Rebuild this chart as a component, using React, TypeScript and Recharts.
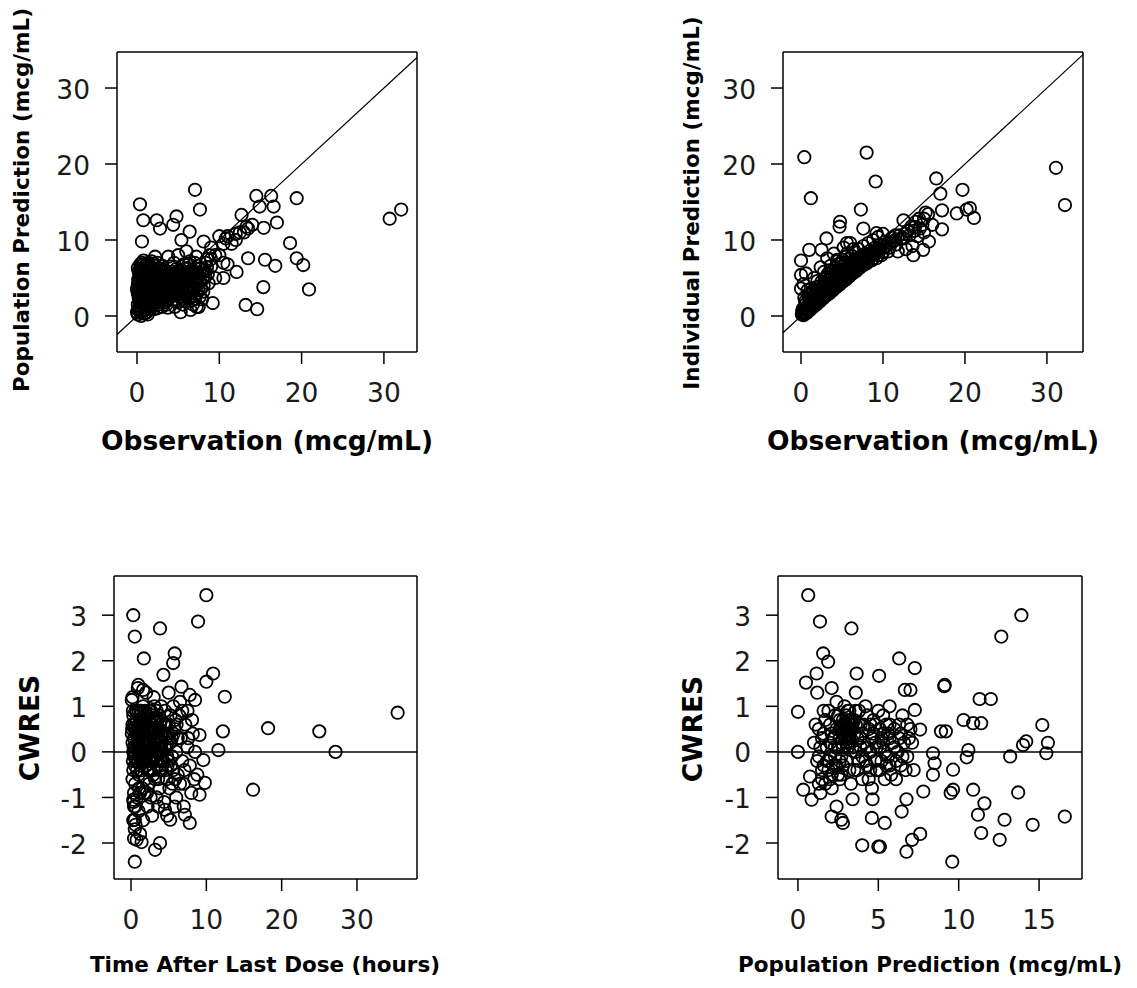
import React from "react"
import { ScatterChart, Scatter, XAxis, YAxis, ReferenceLine, Label } from "recharts"

// observation vs population prediction (mcg/mL)
const obsVsPred: [number, number][] = [
  [0.36, 14.7], [7.05, 16.6], [7.65, 14.0], [14.5, 15.8], [16.3, 15.8], [19.4, 15.5], [14.9, 14.4],
  [16.6, 14.4], [17.0, 12.3], [30.7, 12.8], [32.1, 14.0], [0.77, 12.6], [2.4, 12.6], [2.8, 11.5],
  [4.8, 13.1], [4.4, 12.0], [6.4, 11.1], [5.4, 10.0], [0.6, 9.8], [8.1, 9.8], [12.7, 13.3],
  [13.3, 11.75], [15.4, 11.6], [18.6, 9.6], [19.4, 7.6], [20.2, 6.7], [15.55, 7.4], [16.8, 6.6],
  [13.5, 7.6], [12.1, 5.8], [15.35, 3.8], [20.9, 3.5], [13.2, 1.45], [14.6, 0.9],
  [10, 10.5], [11, 10.5], [10.5, 9.5], [12, 10], [12.5, 11], [13, 11], [11.5, 9.5], [9, 9],
  [9.5, 8], [8.5, 7.5], [10, 8], [9, 6.5], [8, 6], [10.5, 7], [11, 6.8], [9.5, 5], [10.5, 5],
  [9.2, 1.7], [7.5, 1.2], [12, 10.8], [13.5, 11.5], [14, 12], [10.8, 10.2],
  [0.1, 0.2], [0.2, 1.0], [0.3, 2.0], [0.1, 3.0], [0.4, 3.8], [0.2, 4.5], [0.3, 5.5], [0.5, 6.2],
  [0.6, 7.0], [0.8, 1.5], [0.9, 2.5], [0.7, 3.2], [1.0, 4.0], [0.9, 5.0], [1.1, 5.8], [1.2, 0.5],
  [1.3, 1.8], [1.4, 2.8], [1.5, 3.5], [1.3, 4.4], [1.6, 6.5], [1.8, 7.2], [1.7, 1.0], [2.0, 2.2],
  [2.1, 3.0], [1.9, 4.2], [2.2, 5.1], [2.4, 6.0], [2.5, 7.0], [2.6, 1.5], [2.8, 2.6], [2.9, 3.6],
  [3.0, 4.5], [2.7, 5.6], [3.1, 6.6], [0.0, 0.5], [0.5, 0.0], [1.0, 0.8], [2.0, 0.9], [0.3, 2.6],
  [0.6, 4.8], [1.5, 5.3], [2.3, 4.0], [3.2, 2.0], [3.4, 3.2], [3.5, 5.2], [3.3, 6.0], [0.2, 5.9],
  [1.2, 6.8], [2.9, 6.2],
  [0.1, 1.5], [0.2, 2.4], [0.0, 3.5], [0.1, 4.1], [0.3, 4.9], [0.4, 5.2], [0.1, 6.3], [0.4, 6.8],
  [0.5, 1.2], [0.6, 2.2], [0.5, 3.0], [0.7, 3.9], [0.8, 4.5], [0.7, 5.5], [0.8, 6.2], [0.9, 0.3],
  [1.0, 1.6], [1.1, 2.0], [1.0, 3.0], [1.2, 3.5], [1.1, 4.8], [1.3, 5.2], [1.4, 6.0], [1.5, 0.9],
  [1.6, 2.1], [1.7, 3.1], [1.6, 4.0], [1.8, 4.7], [1.7, 5.7], [1.9, 6.2], [2.0, 1.5], [2.2, 2.6],
  [2.1, 3.6], [2.3, 4.6], [2.5, 5.4], [2.2, 6.6], [2.4, 1.0], [2.6, 2.0], [2.5, 3.3], [2.7, 4.2],
  [2.8, 5.0], [3.0, 1.2], [3.1, 2.4], [3.2, 3.0], [3.3, 4.0], [3.1, 5.2], [3.5, 4.4], [3.4, 1.8],
  [0.6, 0.6], [1.4, 1.3], [0.2, 3.4], [0.9, 3.6], [1.8, 2.4], [2.6, 4.6], [1.2, 6.2], [0.8, 7.3],
  [1.4, 7.0],
  [0.15, 0.8], [0.35, 1.7], [0.25, 2.8], [0.45, 3.4], [0.15, 4.8], [0.35, 5.9], [0.55, 6.6],
  [0.65, 1.9], [0.75, 2.8], [0.85, 4.1], [0.65, 5.1], [0.95, 5.6], [1.05, 6.5], [1.15, 1.2],
  [1.25, 2.4], [1.35, 3.2], [1.45, 4.7], [1.55, 5.7], [1.65, 1.6], [1.75, 2.6], [1.85, 3.6],
  [1.95, 5.2], [2.05, 6.9], [2.15, 1.8], [2.35, 2.9], [2.45, 4.3], [2.55, 5.0], [2.65, 6.3],
  [2.85, 1.9], [2.95, 3.1], [3.05, 4.0], [3.15, 5.7], [3.35, 2.6], [3.45, 3.7], [3.55, 4.8],
  [0.45, 0.4], [1.3, 0.2],
  [3.6, 1.5], [3.8, 2.5], [4.0, 3.5], [4.2, 4.5], [4.4, 5.5], [4.1, 6.5], [4.5, 7.0], [4.8, 2.0],
  [5.0, 3.0], [5.2, 4.0], [5.4, 5.0], [5.1, 6.0], [5.3, 0.5], [5.6, 1.5], [5.8, 2.8], [6.0, 3.8],
  [6.2, 5.2], [6.1, 6.3], [6.4, 7.2], [6.6, 2.0], [6.8, 3.2], [7.0, 4.5], [7.2, 5.6], [7.4, 6.6],
  [7.6, 2.5], [7.8, 3.6], [8.0, 4.8], [8.2, 6.0], [8.4, 7.0], [7.25, 1.2], [6.5, 0.8], [4.6, 1.2],
  [3.9, 4.0], [5.7, 6.8], [8.6, 5.5], [9.0, 7.5], [8.8, 8.0], [7.2, 7.8], [6.0, 8.5], [5.0, 8.0],
  [3.8, 7.8], [2.2, 7.8],
  [3.7, 2.0], [3.9, 3.0], [4.0, 4.6], [4.2, 5.8], [4.3, 2.6], [4.5, 3.6], [4.6, 4.2], [4.7, 5.0],
  [4.8, 6.2], [4.9, 2.8], [5.0, 1.8], [5.1, 3.6], [5.2, 4.6], [5.3, 5.6], [5.5, 2.2], [5.5, 3.4],
  [5.6, 4.4], [5.7, 5.4], [5.8, 6.2], [5.9, 1.9], [6.0, 2.6], [6.1, 4.4], [6.2, 3.2], [6.3, 5.8],
  [6.4, 2.4], [6.5, 4.0], [6.6, 5.0], [6.7, 6.0], [6.8, 1.5], [6.9, 2.6], [7.0, 3.8], [7.1, 5.0],
  [7.3, 3.0], [7.4, 4.2], [7.5, 5.2], [7.7, 6.2], [7.9, 2.2], [8.1, 4.0], [8.3, 5.2], [8.5, 6.4],
  [8.7, 4.3], [5.4, 2.6], [4.4, 4.9], [3.6, 3.8], [6.3, 6.8], [7.0, 7.0],
  [3.75, 1.1], [3.85, 3.4], [4.05, 4.2], [4.25, 5.2], [4.45, 2.2], [4.65, 3.1], [4.85, 4.0],
  [5.05, 5.2], [5.25, 3.2], [5.45, 4.2], [5.65, 2.9], [5.85, 3.6], [6.05, 4.9], [6.25, 4.1],
  [6.45, 3.1], [6.65, 4.6], [6.85, 5.6], [7.05, 2.2], [7.25, 4.8], [7.45, 3.4], [7.65, 4.6],
  [7.85, 5.6], [8.05, 3.2],
]

// observation vs individual prediction (mcg/mL)
const obsVsIpred: [number, number][] = [
  [0.4, 20.9], [8.0, 21.5], [9.1, 17.7], [1.2, 15.5], [7.3, 14.0], [31.1, 19.5], [32.2, 14.6],
  [16.5, 18.1], [17.0, 16.1], [19.7, 16.6], [17.2, 13.9], [19.0, 13.5], [20.2, 14.0], [20.6, 14.2],
  [21.1, 12.9], [17.2, 11.4], [4.76, 12.4], [4.7, 11.75], [3.1, 10.2], [1.0, 8.7], [0.0, 7.3],
  [0.0, 5.4], [0.6, 5.6], [0.0, 3.6], [2.5, 8.7], [7.6, 11.5], [9.2, 10.9], [5.6, 9.6], [4.4, 7.4],
  [13.7, 8.0], [14.9, 8.7], [12.5, 12.6], [13.9, 11.7], [15.0, 11.0],
  [0.1, 0.2], [0.3, 0.1], [0.5, 0.6], [0.7, 0.4], [0.9, 1.0], [1.1, 0.8], [1.3, 1.4], [1.5, 1.2],
  [1.7, 1.8], [1.9, 1.5], [2.1, 2.2], [2.3, 1.9], [2.5, 2.6], [2.7, 2.3], [2.9, 3.0], [3.1, 2.7],
  [3.3, 3.4], [3.5, 3.0], [3.7, 3.8], [3.9, 3.4], [4.1, 4.2], [4.3, 3.8], [4.5, 4.5], [4.7, 4.1],
  [4.9, 4.9], [5.1, 4.5], [5.3, 5.3], [5.5, 4.8], [5.7, 5.6], [5.9, 5.2], [6.1, 6.0], [6.3, 5.6],
  [6.5, 6.4], [6.7, 5.9], [6.9, 6.8], [7.1, 6.3], [7.3, 7.0], [7.5, 6.6], [7.8, 7.4], [8.0, 6.9],
  [8.3, 7.8], [8.6, 7.3], [8.9, 8.2], [9.2, 7.6], [9.5, 8.6], [9.8, 8.0], [10.2, 9.0], [10.6, 8.5],
  [11.0, 9.6], [11.5, 10.0], [12.0, 10.6], [12.5, 10.2], [13.0, 11.2], [13.5, 11.8], [14.0, 12.4],
  [14.5, 11.5], [15.0, 12.8], [15.5, 13.4], [16.0, 12.0], [14.2, 10.5], [13.6, 9.2], [12.8, 8.8],
  [15.6, 9.8], [11.8, 8.5], [0.2, 0.9], [0.6, 1.6], [1.0, 2.2], [1.4, 2.6], [1.8, 3.0], [2.2, 3.4],
  [2.6, 3.8], [3.0, 4.4], [3.4, 4.8], [3.8, 5.2], [4.2, 5.6], [4.6, 6.0], [5.0, 6.5], [5.4, 7.0],
  [5.8, 7.5], [6.2, 7.9], [6.6, 8.4], [7.0, 8.8], [7.6, 9.2], [8.2, 9.6], [8.8, 10.0], [9.4, 10.4],
  [10.0, 10.8], [1.2, 3.6], [2.0, 4.6], [2.8, 5.8], [3.6, 6.6], [4.4, 7.2], [0.4, 2.4], [0.8, 3.4],
  [0.3, 4.2], [1.6, 5.0], [2.4, 6.4], [3.2, 7.6], [5.2, 9.0], [6.0, 9.6], [4.0, 8.2],
  [0.2, 0.4], [0.4, 0.5], [0.6, 0.9], [0.8, 0.7], [1.0, 1.3], [1.2, 1.1], [1.4, 1.7], [1.6, 1.5],
  [1.8, 2.1], [2.0, 1.8], [2.2, 2.5], [2.4, 2.2], [2.6, 2.9], [2.8, 2.6], [3.0, 3.2], [3.2, 3.0],
  [3.4, 3.6], [3.6, 3.3], [3.8, 4.0], [4.0, 3.7], [4.2, 4.4], [4.4, 4.1], [4.6, 4.8], [4.8, 4.4],
  [5.0, 5.1], [5.2, 4.8], [5.4, 5.5], [5.6, 5.1], [5.8, 5.9], [6.0, 5.5], [6.2, 6.2], [6.4, 5.8],
  [6.6, 6.6], [6.8, 6.2], [7.0, 6.9], [7.2, 6.6], [7.4, 7.3], [7.7, 6.9], [7.9, 7.6], [8.2, 7.2],
  [8.5, 8.0], [8.8, 7.6], [9.1, 8.4], [9.4, 8.0], [9.7, 8.8], [10.0, 8.4], [10.4, 9.2], [10.8, 9.0],
  [11.2, 9.8], [11.6, 9.4], [12.2, 10.2], [12.7, 10.8], [13.2, 10.6], [13.8, 11.2], [14.4, 12.8],
  [14.8, 12.0], [15.2, 13.6], [1.1, 2.9], [1.5, 3.3], [2.3, 3.9], [2.9, 4.8], [3.3, 5.6], [3.9, 6.0],
  [4.5, 6.8], [5.1, 7.4], [5.6, 8.2], [6.4, 8.8],
  [0.15, 0.6], [0.35, 0.3], [0.55, 1.1], [0.75, 0.9], [0.95, 1.6], [1.15, 1.4], [1.35, 2.0],
  [1.55, 1.9], [1.75, 2.5], [1.95, 2.3], [2.15, 2.9], [2.35, 2.7], [2.55, 3.3], [2.75, 3.1],
  [2.95, 3.7], [3.15, 3.5], [3.35, 4.1], [3.55, 3.9], [3.75, 4.5], [3.95, 4.3], [4.15, 4.9],
  [4.35, 4.7], [4.55, 5.3], [4.75, 5.1], [4.95, 5.7], [5.15, 5.5], [5.35, 6.1], [5.55, 5.9],
  [5.75, 6.5], [5.95, 6.3], [6.15, 6.9], [6.35, 6.7], [6.55, 7.3], [6.75, 7.1], [6.95, 7.6],
  [7.15, 7.4], [7.35, 7.9], [7.55, 7.7], [7.85, 8.2], [8.15, 8.0], [8.45, 8.6], [8.75, 8.4],
  [9.05, 9.0], [9.35, 8.9], [9.65, 9.4], [9.95, 9.3], [10.3, 9.8], [10.7, 9.6], [11.1, 10.3],
  [11.5, 10.6], [0.5, 1.9], [0.9, 2.7], [1.3, 3.1], [1.9, 3.8], [2.5, 4.5], [3.1, 5.2], [3.7, 5.8],
  [4.3, 6.4], [4.9, 7.0], [5.5, 7.8],
]

// time after last dose (hours) vs CWRES
const tadVsCwres: [number, number][] = [
  [10.0, 3.44], [0.3, 3.0], [0.5, 2.53], [3.85, 2.71], [8.9, 2.86], [1.7, 2.05], [5.8, 2.16],
  [10.9, 1.72], [10.0, 1.54], [12.45, 1.21], [35.4, 0.86], [18.2, 0.52], [25.0, 0.45], [27.15, 0.0],
  [16.2, -0.83], [12.2, 0.45], [11.6, 0.04], [0.5, -2.41], [3.2, -2.15], [3.85, -2.0], [7.8, -1.56],
  [5.2, -1.49], [0.75, -1.93], [1.4, -1.98], [0.5, -1.49], [0.3, -1.05], [9.1, -0.94], [9.8, -0.68],
  [2.1, -0.9], [7.15, -1.38], [4.5, -1.27], [5.6, 1.95], [4.3, 1.69], [6.7, 1.43], [7.8, 1.25],
  [8.5, 1.14], [0.97, 1.47], [1.6, 1.36], [0.1, 1.14], [9.1, 0.37], [9.6, -0.18],
  [0.2, 0.6], [0.4, 0.3], [0.3, 0.0], [0.5, -0.3], [0.2, -0.6], [0.6, 0.9], [0.8, 0.5], [0.9, 0.1],
  [0.7, -0.2], [1.0, -0.5], [0.4, -0.9], [0.6, -1.2], [1.2, 0.7], [1.3, 0.3], [1.1, -0.1],
  [1.4, -0.4], [1.5, -0.8], [1.6, 1.0], [1.8, 0.6], [1.7, 0.2], [2.0, -0.2], [1.9, -0.6], [2.2, 0.8],
  [2.4, 0.4], [2.3, 0.0], [2.5, -0.4], [2.6, -1.0], [2.8, 0.6], [3.0, 0.2], [2.9, -0.2], [3.2, -0.6],
  [3.1, 1.0], [3.4, 0.5], [3.6, 0.1], [3.5, -0.3], [3.8, -0.8], [3.7, 0.8], [4.0, 0.4], [4.2, 0.0],
  [4.1, -0.4], [4.4, -1.1], [4.5, 0.9], [4.6, 0.3], [4.8, -0.1], [4.7, -0.6], [5.0, 0.6], [5.2, 0.2],
  [5.3, -0.3], [5.5, -0.7], [5.6, 1.0], [5.8, 0.5], [6.0, 0.0], [6.2, -0.5], [6.4, 0.8], [6.6, 0.3],
  [6.8, -0.2], [7.0, -0.7], [7.2, 0.6], [7.5, 0.1], [7.8, -0.3], [8.0, -0.9], [8.2, 0.4], [8.5, 0.0],
  [8.8, -0.5], [2.0, 1.3], [3.0, 1.2], [4.0, 1.0], [5.0, 1.3], [6.5, 1.1], [7.5, 0.9], [0.3, -1.5],
  [0.5, -1.7], [1.0, -1.3], [1.6, -1.5], [2.8, -1.4], [3.6, -1.2], [4.8, -1.4], [6.0, -1.0],
  [7.0, -1.2], [0.2, 1.2], [0.9, 1.4], [1.2, -1.8], [2.2, -1.2], [5.8, -1.2], [8.4, -0.6],
  [6.8, 0.9], [3.3, 0.7], [1.4, 0.9],
  [0.1, 0.4], [0.3, 0.8], [0.2, 0.2], [0.4, -0.1], [0.3, -0.4], [0.5, 0.5], [0.6, 0.1], [0.7, 0.7],
  [0.8, -0.4], [0.9, 0.4], [1.0, 0.2], [1.0, 0.9], [1.1, 0.5], [1.2, -0.3], [1.3, 0.1], [1.4, 0.6],
  [1.5, 0.2], [1.5, -0.2], [1.6, 0.4], [1.7, 0.8], [1.8, -0.1], [1.9, 0.3], [2.0, 0.6], [2.1, 0.1],
  [2.2, -0.4], [2.3, 0.5], [2.4, 0.9], [2.5, 0.2], [2.6, -0.2], [2.7, 0.4], [2.8, 0.0], [2.9, 0.8],
  [3.0, -0.4], [3.1, 0.5], [3.2, 0.1], [3.3, -0.2], [3.4, 0.9], [3.5, 0.3], [3.6, -0.6], [3.7, 0.5],
  [3.8, 0.0], [3.9, -0.3], [4.0, 0.7], [4.1, 0.2], [4.3, -0.2], [4.4, 0.6], [4.6, -0.4], [4.7, 0.1],
  [4.9, 0.4], [5.0, -0.2], [5.1, -0.8], [5.4, 0.3], [5.6, -0.4], [5.9, 0.7], [6.2, 0.3], [6.5, -0.7],
  [7.1, -0.4], [7.6, 0.3], [8.1, 0.7], [0.4, -1.2], [0.8, -1.0], [1.2, -0.9], [0.6, -1.6],
  [0.4, -1.9], [2.4, -0.7], [3.4, -1.0],
  [0.15, 0.5], [0.25, 0.9], [0.35, 0.1], [0.45, 0.6], [0.55, -0.1], [0.65, 0.4], [0.75, 0.9],
  [0.85, 0.2], [0.95, -0.2], [1.05, 0.6], [1.15, 0.1], [1.25, 0.9], [1.35, 0.4], [1.45, -0.1],
  [1.55, 0.7], [1.65, 0.0], [1.75, 0.5], [1.85, 0.9], [1.95, 0.2], [2.05, -0.3], [2.15, 0.5],
  [2.25, 0.2], [2.35, 0.7], [2.45, -0.1], [2.55, 0.5], [2.65, 0.9], [2.75, 0.1], [2.85, 0.4],
  [2.95, -0.5], [3.05, 0.7], [3.15, 0.3], [3.25, -0.1], [3.35, 0.5], [3.45, 0.0], [3.55, 0.7],
  [3.65, 0.3], [3.75, -0.4], [3.85, 0.6], [3.95, 0.1], [4.05, -0.2], [4.25, 0.4], [4.45, 0.1],
  [4.65, 0.6], [4.85, -0.3], [5.05, 0.3], [5.25, 0.8], [5.45, -0.1], [5.65, 0.4], [5.85, -0.6],
  [6.05, 0.6], [0.25, -0.2], [0.55, -0.7], [1.05, -0.8], [1.75, -0.9], [0.35, -1.1],
]

// population prediction (mcg/mL) vs CWRES
const predVsCwres: [number, number][] = [
  [0.64, 3.44], [1.37, 2.86], [3.33, 2.71], [13.9, 3.0], [12.65, 2.53], [1.57, 2.16], [1.88, 1.98],
  [6.3, 2.05], [7.27, 1.84], [5.05, 1.67], [3.65, 1.72], [1.16, 1.72], [0.5, 1.52], [9.13, 1.47],
  [9.1, 1.44], [6.65, 1.36], [7.0, 1.36], [11.3, 1.16], [12.0, 1.16], [0.0, 0.88], [15.2, 0.59],
  [14.2, 0.23], [15.55, 0.2], [15.45, -0.03], [13.2, -0.1], [0.0, 0.0], [13.7, -0.89],
  [16.6, -1.42], [14.6, -1.6], [12.85, -1.49], [12.55, -1.93], [11.4, -1.78], [11.2, -1.38],
  [11.6, -1.13], [10.9, -0.83], [9.6, -2.41], [9.65, -0.83], [9.5, -0.9], [9.65, -0.39],
  [8.4, -0.5], [8.4, -0.03], [8.5, -0.25], [7.8, -0.87], [7.6, -1.8], [7.1, -1.93], [6.75, -2.19],
  [6.45, -1.31], [6.75, -1.04], [5.1, -2.08], [5.0, -2.08], [4.0, -2.05], [5.4, -1.56], [4.6, -1.45],
  [4.64, -1.04], [3.4, -1.04], [2.8, -1.56], [2.7, -1.49], [2.1, -1.42], [2.4, -1.2], [0.85, -1.05],
  [0.33, -0.83], [0.75, -0.54], [14.0, 0.15], [10.9, 0.63], [10.3, 0.7], [11.4, 0.63], [10.6, 0.04],
  [10.5, -0.12], [9.2, 0.45], [8.9, 0.45], [7.6, 0.49], [5.7, 1.0], [7.27, 0.92],
  [1.0, 0.2], [1.2, -0.2], [1.3, 0.5], [1.5, -0.6], [1.6, 0.9], [1.8, 0.1], [1.9, -0.4], [2.0, 0.6],
  [2.1, -0.8], [2.2, 0.3], [2.3, -0.1], [2.4, 1.1], [2.5, -0.5], [2.6, 0.7], [2.7, 0.2], [2.8, -0.3],
  [2.9, 0.5], [3.0, 0.6], [3.1, 0.4], [3.2, 0.5], [3.0, 0.8], [2.8, 0.4], [3.3, 0.7], [3.4, 0.1],
  [3.5, -0.4], [3.6, 0.9], [3.7, 0.3], [3.8, -0.2], [3.9, 0.6], [4.0, -0.6], [4.1, 0.2], [4.2, 1.0],
  [4.3, -0.3], [4.4, 0.5], [4.5, 0.0], [4.6, -0.8], [4.7, 0.7], [4.8, 0.2], [4.9, -0.4], [5.0, 0.9],
  [5.1, 0.1], [5.2, -0.2], [5.3, 0.4], [5.4, -0.6], [5.5, 0.6], [5.6, -0.1], [5.7, 0.3], [5.8, -0.5],
  [6.0, 0.5], [6.2, 0.0], [6.4, -0.3], [6.5, 0.8], [6.6, 0.2], [6.8, -0.1], [7.0, 0.5], [7.2, -0.4],
  [2.0, -0.1], [1.7, -0.7], [3.3, -0.7], [4.0, -0.1], [1.4, -0.9], [2.6, -0.6], [3.6, 1.3],
  [2.1, 1.4], [1.2, 1.3], [2.9, 1.0],
  [2.9, 0.6], [3.0, 0.4], [3.1, 0.7], [3.2, 0.3], [3.3, 0.5], [2.7, 0.5], [2.8, 0.7], [3.0, 0.2],
  [3.4, 0.6], [2.6, 0.3], [3.1, 0.9], [3.5, 0.4], [2.5, 0.1], [2.4, 0.5], [2.2, -0.3], [2.0, 0.2],
  [1.8, -0.2], [1.6, 0.4], [1.4, 0.1], [1.9, 0.9], [2.3, 0.8], [2.6, -0.2], [2.7, -0.5], [3.0, -0.2],
  [3.2, -0.4], [3.6, 0.0], [3.9, 0.3], [4.2, -0.2], [4.5, 0.6], [4.8, -0.2], [5.1, 0.5], [5.4, 0.0],
  [5.7, -0.3], [6.0, 0.1], [6.3, 0.6], [6.7, -0.4], [7.1, 0.2], [1.5, -0.4], [1.3, -0.7],
  [2.1, -0.5], [4.3, 0.8], [5.3, 0.8], [6.1, -0.6], [3.8, 0.9], [4.6, 0.3],
  [1.1, 0.6], [1.3, -0.1], [1.5, 0.3], [1.7, 0.7], [1.9, -0.2], [2.1, 0.4], [2.3, 0.1], [2.5, 0.8],
  [2.7, -0.1], [2.9, 0.3], [3.1, 0.1], [3.3, 0.2], [3.5, 0.7], [3.7, -0.4], [3.9, 0.1], [4.1, 0.6],
  [4.3, 0.1], [4.5, -0.4], [4.7, 0.4], [4.9, 0.1], [5.1, -0.4], [5.3, 0.2], [5.5, -0.3], [5.7, 0.6],
  [5.9, 0.2], [6.1, -0.2], [6.3, 0.3], [6.5, -0.1], [6.9, 0.3], [1.6, -0.3], [2.0, -0.6],
  [2.4, -0.3], [2.8, 0.1], [3.2, 0.9], [3.6, 0.6], [4.0, 0.4], [4.4, -0.6], [4.8, 0.6], [5.2, 0.3],
  [5.6, 0.4], [6.4, 0.4], [6.8, 0.6], [2.9, 0.35], [3.0, 0.5], [2.8, 0.55], [3.2, 0.6], [3.1, 0.3],
  [2.6, 0.5],
]

const concTicks = [0, 10, 20, 30]
const tadTicks = [0, 10, 20, 30]
const predTicks = [0, 5, 10, 15]
const cwresTicks = [-2, -1, 0, 1, 2, 3]

const FONT = "DejaVu Sans"
const TICK_FS = 26.5
const Y_W = 70
const R_W = 20
const T_H = 20
const B_H = 60

const toPoints = (rows: [number, number][]) => rows.map(([x, y]) => ({ x, y }))

const OpenCircle = (p: any) => (
  <circle cx={p.cx} cy={p.cy} r={6.2} fill="none" stroke="#000" strokeWidth={1.8} />
)

interface PanelProps {
  left: number
  top: number
  width: number
  height: number
  plot: { x: number; y: number; w: number; h: number }
  xDomain: [number, number]
  yDomain: [number, number]
  xTicks: number[]
  yTicks: number[]
  rows: [number, number][]
  xTitle: string
  yTitle: string
  xTitleAt: [number, number, number]
  yTitleAt: [number, number, number]
  identity?: boolean
}

const Panel = (props: PanelProps) => {
  const { left, top, width, height, plot, xDomain, yDomain, xTicks, yTicks, rows } = props
  const margin = {
    left: plot.x - left - Y_W,
    right: left + width - plot.x - plot.w - R_W,
    top: plot.y - top - T_H,
    bottom: top + height - plot.y - plot.h - B_H,
  }
  const line = { stroke: "#000", strokeWidth: 1.5 }
  const [xtx, xty, xts] = props.xTitleAt
  const [ytx, yty, yts] = props.yTitleAt
  const lo = Math.max(xDomain[0], yDomain[0])
  const hi = Math.min(xDomain[1], yDomain[1])
  // label anchors, chart-local
  const yLabelRight = plot.x - left - 27
  const xLabelBase = plot.y - top + plot.h + 50

  const XTick = (p: any) => (
    <text x={p.x} y={xLabelBase} textAnchor="middle" fontFamily={FONT} fontSize={TICK_FS} fill="#1a1a1a">
      {p.payload.value}
    </text>
  )
  const YTick = (p: any) => (
    <text x={yLabelRight} y={p.y + TICK_FS * 0.36 + 1} textAnchor="end" fontFamily={FONT} fontSize={TICK_FS} fill="#1a1a1a">
      {p.payload.value}
    </text>
  )

  return (
    <div style={{ position: "absolute", left, top, width, height }}>
      <ScatterChart width={width} height={height} margin={margin}>
        <XAxis
          xAxisId="b"
          type="number"
          dataKey="x"
          domain={xDomain}
          allowDataOverflow
          ticks={xTicks}
          interval={0}
          height={B_H}
          tickSize={12}
          axisLine={line}
          tickLine={line}
          tick={XTick}
        >
          <Label
            content={() => (
              <text x={xtx} y={xty} textAnchor="middle" fontFamily={FONT} fontWeight="bold" fontSize={xts} fill="#000">
                {props.xTitle}
              </text>
            )}
          />
        </XAxis>
        <XAxis
          xAxisId="t"
          orientation="top"
          type="number"
          domain={xDomain}
          allowDataOverflow
          ticks={xTicks}
          interval={0}
          height={T_H}
          tickSize={12}
          axisLine={line}
          tickLine={line}
          tick={false}
        />
        <YAxis
          yAxisId="l"
          type="number"
          dataKey="y"
          domain={yDomain}
          allowDataOverflow
          ticks={yTicks}
          interval={0}
          width={Y_W}
          tickSize={12}
          axisLine={line}
          tickLine={line}
          tick={YTick}
        >
          <Label
            content={() => (
              <text
                x={ytx}
                y={yty}
                textAnchor="middle"
                transform={`rotate(-90, ${ytx}, ${yty})`}
                fontFamily={FONT}
                fontWeight="bold"
                fontSize={yts}
                fill="#000"
              >
                {props.yTitle}
              </text>
            )}
          />
        </YAxis>
        <YAxis
          yAxisId="r"
          orientation="right"
          type="number"
          domain={yDomain}
          allowDataOverflow
          ticks={yTicks}
          interval={0}
          width={R_W}
          tickSize={12}
          axisLine={line}
          tickLine={line}
          tick={false}
        />
        {props.identity ? (
          <ReferenceLine
            xAxisId="b"
            yAxisId="l"
            segment={[{ x: lo, y: lo }, { x: hi, y: hi }]}
            stroke="#000"
            strokeWidth={1.2}
            ifOverflow="visible"
          />
        ) : (
          <ReferenceLine xAxisId="b" yAxisId="l" y={0} stroke="#000" strokeWidth={1.5} />
        )}
        <Scatter
          xAxisId="b"
          yAxisId="l"
          data={toPoints(rows)}
          shape={OpenCircle}
          isAnimationActive={false}
        />
      </ScatterChart>
    </div>
  )
}

export default function App() {
  return (
    <div style={{ position: "absolute", left: 0, top: 0, width: 1137, height: 988, background: "#fff" }}>
      <Panel
        left={0}
        top={0}
        width={460}
        height={480}
        plot={{ x: 117, y: 52, w: 300, h: 300 }}
        xDomain={[-2.43, 34.02]}
        yDomain={[-4.74, 34.74]}
        xTicks={concTicks}
        yTicks={concTicks}
        rows={obsVsPred}
        xTitle="Observation (mcg/mL)"
        yTitle="Population Prediction (mcg/mL)"
        xTitleAt={[267, 450, 26.5]}
        yTitleAt={[29, 200, 21.5]}
        identity
      />
      <Panel
        left={660}
        top={0}
        width={477}
        height={480}
        plot={{ x: 783, y: 52, w: 300, h: 300 }}
        xDomain={[-2.2, 34.4]}
        yDomain={[-4.74, 34.74]}
        xTicks={concTicks}
        yTicks={concTicks}
        rows={obsVsIpred}
        xTitle="Observation (mcg/mL)"
        yTitle="Individual Prediction (mcg/mL)"
        xTitleAt={[273, 450, 26.5]}
        yTitleAt={[39, 203, 21.5]}
        identity
      />
      <Panel
        left={0}
        top={520}
        width={460}
        height={468}
        plot={{ x: 114, y: 576, w: 303, h: 303 }}
        xDomain={[-2.26, 37.97]}
        yDomain={[-2.79, 3.86]}
        xTicks={tadTicks}
        yTicks={cwresTicks}
        rows={tadVsCwres}
        xTitle="Time After Last Dose (hours)"
        yTitle="CWRES"
        xTitleAt={[265, 452, 21.5]}
        yTitleAt={[39, 208, 26.5]}
      />
      <Panel
        left={660}
        top={520}
        width={477}
        height={468}
        plot={{ x: 778, y: 576, w: 304, h: 303 }}
        xDomain={[-1.24, 17.67]}
        yDomain={[-2.79, 3.86]}
        xTicks={predTicks}
        yTicks={cwresTicks}
        rows={predVsCwres}
        xTitle="Population Prediction (mcg/mL)"
        yTitle="CWRES"
        xTitleAt={[270, 452, 21.5]}
        yTitleAt={[42, 209, 26.5]}
      />
    </div>
  )
}
